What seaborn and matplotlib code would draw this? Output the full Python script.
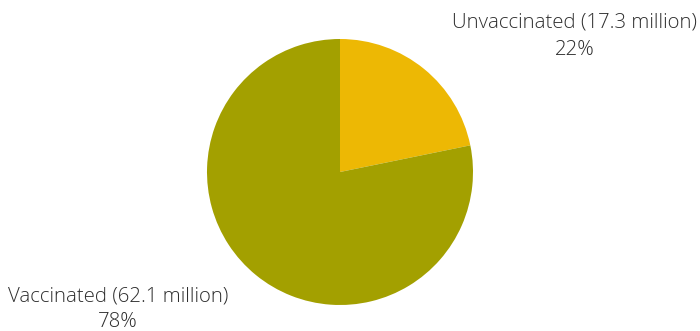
import matplotlib
matplotlib.use("Agg")
import matplotlib.pyplot as plt
import seaborn as sns

categories = ["Unvaccinated", "Vaccinated"]
values_million = [17.3, 62.1]
percent_labels = ["22%", "78%"]
colors = ["#EDB804", "#A3A000"]

sns.set_theme(style="white")
plt.rcParams['font.family'] = ['Open Sans', 'DejaVu Sans']

W, H = 700, 331
fig = plt.figure(figsize=(W / 100, H / 100), dpi=100)
cx, cy, r = 340, 172, 133
ax = fig.add_axes([(cx - r) / W, 1 - (cy + r) / H, 2 * r / W, 2 * r / H])
ax.pie(values_million, colors=colors, startangle=90, counterclock=False,
       radius=1, wedgeprops=dict(linewidth=0))
ax.set_xlim(-1, 1)
ax.set_ylim(-1, 1)
ax.set_aspect("equal")
ax.axis("off")

label_pos = [(575, 22, 50), (118, 296, 322)]
for cat, v, p, (x, y1, y2) in zip(categories, values_million, percent_labels, label_pos):
    fig.text(x / W, 1 - y1 / H, f"{cat} ({v} million)", ha="center", va="center",
             fontsize=14.7, color="#2e2e2e", fontweight="light")
    fig.text(x / W, 1 - y2 / H, p, ha="center", va="center",
             fontsize=14.7, color="#2e2e2e", fontweight="light")

fig.savefig("out.png", dpi=100)
